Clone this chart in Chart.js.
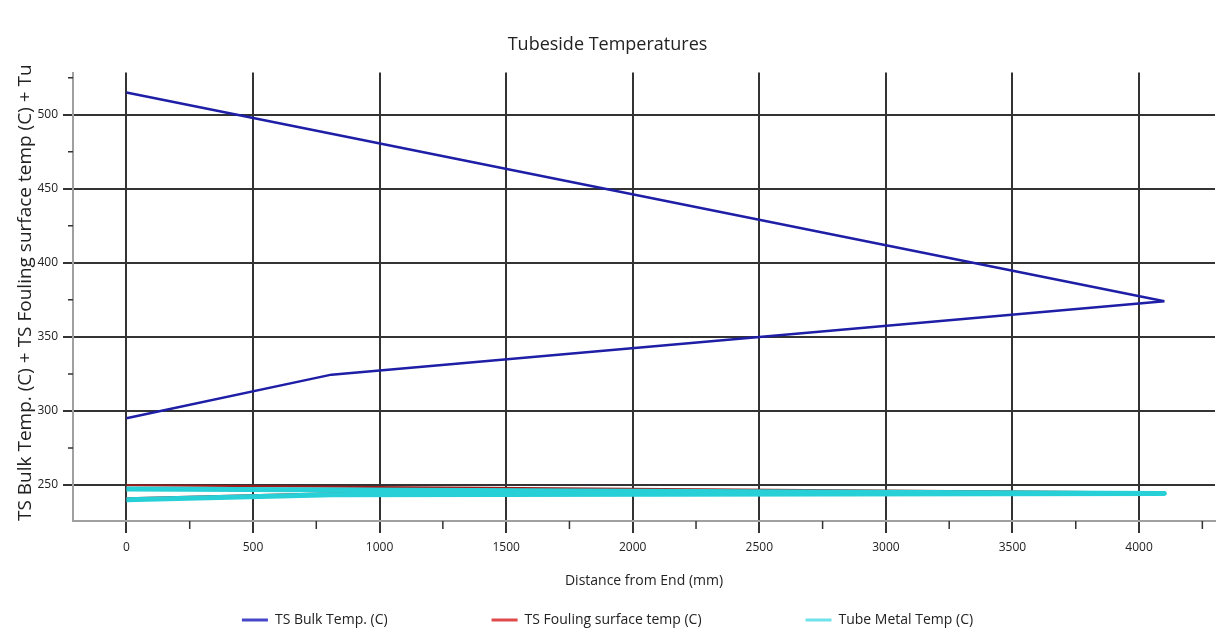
<!DOCTYPE html>
<html>
<head>
<meta charset="utf-8">
<title>Tubeside Temperatures</title>
<script src="https://cdn.jsdelivr.net/npm/chart.js@4.4.1/dist/chart.umd.min.js"></script>
<style>
    html, body { margin: 0; padding: 0; background: #fff; }
</style>
</head>
<body>
<canvas id="tubesideChart" width="1232" height="635"></canvas>
<script>
// distance from tube end (mm) and temperature (C); each series goes out and back (two passes)
const bulkDist = [0, 4100, 810, 0];
const bulkTemp = [515, 374, 324.5, 295];
const foulingDist = [0, 4100, 810, 0];
const foulingTemp = [249.8, 245, 244.4, 241];
const metalDist = [0, 4100, 810, 0];
const metalTemp = [247.3, 244.2, 243.4, 240];

const xTicks = [0, 500, 1000, 1500, 2000, 2500, 3000, 3500, 4000];
const yTicks = [250, 300, 350, 400, 450, 500];
const xMinorTicks = [250, 750, 1250, 1750, 2250, 2750, 3250, 3750, 4250];
const yMinorTicks = [275, 325, 375, 425, 475, 525];

const toPoints = (xs, ys) => xs.map((x, i) => ({ x: x, y: ys[i] }));

// short tick marks between the major grid lines
const minorTicks = {
    id: 'minorTicks',
    afterDraw(chart) {
        const { ctx, chartArea } = chart;
        const x = chart.scales.x;
        const y = chart.scales.y;
        ctx.save();
        ctx.strokeStyle = '#333';
        ctx.lineWidth = 1.5;
        ctx.beginPath();
        xMinorTicks.forEach(v => {
            const px = x.getPixelForValue(v);
            if (px > chartArea.right) return;
            ctx.moveTo(px, chartArea.bottom);
            ctx.lineTo(px, chartArea.bottom + 8);
        });
        yMinorTicks.forEach(v => {
            const py = y.getPixelForValue(v);
            if (py < chartArea.top) return;
            ctx.moveTo(chartArea.left - 5, py);
            ctx.lineTo(chartArea.left, py);
        });
        ctx.stroke();
        ctx.restore();
    }
};

Chart.defaults.font.family = "'Open Sans', 'Noto Sans', sans-serif";
Chart.defaults.color = '#222';

const ctx = document.getElementById('tubesideChart');
new Chart(ctx, {
    type: 'line',
    data: {
        datasets: [
            {
                label: 'TS Bulk Temp. (C)',
                data: toPoints(bulkDist, bulkTemp),
                borderColor: '#1e1ea6',
                backgroundColor: '#4646c8',
                borderWidth: 2.5,
                borderJoinStyle: 'bevel',
                pointRadius: 0,
                tension: 0,
                order: 2
            },
            {
                label: 'TS Fouling surface temp (C)',
                data: toPoints(foulingDist, foulingTemp),
                borderColor: '#a01c1c',
                backgroundColor: '#e04a4a',
                borderWidth: 2,
                borderJoinStyle: 'bevel',
                pointRadius: 0,
                tension: 0,
                order: 1
            },
            {
                label: 'Tube Metal Temp (C)',
                data: toPoints(metalDist, metalTemp),
                borderColor: '#26d0d6',
                backgroundColor: '#6fe3ea',
                borderWidth: 5,
                borderJoinStyle: 'round',
                pointRadius: 0,
                tension: 0,
                order: 0
            }
        ]
    },
    options: {
        responsive: false,
        animation: false,
        devicePixelRatio: 1,
        layout: {
            padding: { left: 0, right: 17, top: 0, bottom: -2 }
        },
        plugins: {
            title: {
                display: true,
                text: 'Tubeside Temperatures',
                color: '#222',
                font: { size: 18, weight: 'normal' },
                padding: { top: 34, bottom: 17 }
            },
            legend: {
                position: 'bottom',
                // empty legend title with negative padding so the wide item spacing
                // does not also make the legend box tall
                title: { display: true, text: '', font: { size: 12 }, padding: { top: -106.4, bottom: 0 } },
                labels: {
                    boxWidth: 26,
                    boxHeight: 3,
                    padding: 104,
                    color: '#222',
                    font: { size: 14 },
                    sort: (a, b) => a.datasetIndex - b.datasetIndex,
                    generateLabels: chart => Chart.defaults.plugins.legend.labels.generateLabels(chart)
                        .map(item => Object.assign(item, { lineWidth: 0 }))
                }
            },
            tooltip: { enabled: false }
        },
        scales: {
            x: {
                type: 'linear',
                min: -211,
                max: 4300,
                z: 1,
                afterBuildTicks: scale => { scale.ticks = xTicks.map(v => ({ value: v })); },
                afterFit: scale => { scale.height = 80; },
                grid: { color: '#333', lineWidth: 2, tickLength: 12, tickColor: '#333' },
                border: { display: true, color: '#a0a0a0', width: 2 },
                ticks: {
                    font: { size: 12 },
                    padding: 7,
                    autoSkip: false,
                    maxRotation: 0,
                    color: '#222',
                    callback: value => String(value)
                },
                title: {
                    display: true,
                    text: 'Distance from End (mm)',
                    color: '#222',
                    font: { size: 14 },
                    padding: { top: 0, bottom: 12 }
                }
            },
            y: {
                type: 'linear',
                min: 225.7,
                max: 528.4,
                z: 1,
                afterBuildTicks: scale => { scale.ticks = yTicks.map(v => ({ value: v })); },
                afterFit: scale => { scale.width = 73; },
                grid: { color: '#333', lineWidth: 2, tickLength: 10, tickColor: '#333' },
                border: { display: true, color: '#a0a0a0', width: 2 },
                ticks: { font: { size: 12 }, padding: 5, autoSkip: false, color: '#222' },
                title: {
                    display: true,
                    text: 'TS Bulk Temp. (C) + TS Fouling surface temp (C) + Tu',
                    align: 'start',
                    color: '#222',
                    font: { size: 19 },
                    padding: { top: 14, bottom: 0 }
                }
            }
        }
    },
    plugins: [minorTicks]
});
</script>
</body>
</html>
